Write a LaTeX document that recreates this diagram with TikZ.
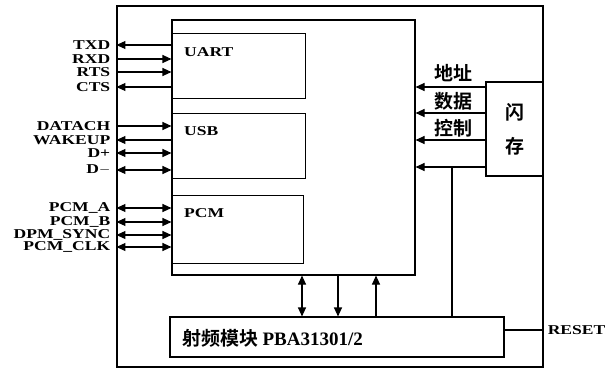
\documentclass[tikz,border=0pt]{standalone}
\usepackage{fontspec}
\setmainfont{Liberation Serif}
\newfontfamily\sigfont[FakeStretch=1.3]{Liberation Serif}
\newfontfamily\cjk{Noto Sans CJK SC}[BoldFont={Noto Sans CJK SC Bold}]
\usetikzlibrary{arrows.meta}

\tikzset{
  blk/.style={draw, line width=1.1pt, inner sep=0pt},
  sig/.style={line width=1.1pt},
  lbl/.style={font=\sigfont\bfseries\fontsize{13.5}{13.5}\selectfont, inner sep=0pt},
  cn/.style={font=\cjk\bfseries\fontsize{19}{19}\selectfont, inner sep=1pt},
  >={Triangle[length=9pt,width=8pt]}
}

\begin{document}
\begin{tikzpicture}[x=1pt,y=-1pt]
    \useasboundingbox (0,0) rectangle (609,369);
    % blocks
    \node[blk, minimum width=426pt, minimum height=361pt] (outer) at (330,186.5) {};
    \node[blk, minimum width=243pt, minimum height=255pt] (main) at (293.5,147.5) {};
    \node[blk, minimum width=133pt, minimum height=65pt, anchor=north west] (uart) at (172,33) {};
    \node[blk, minimum width=133pt, minimum height=65pt, anchor=north west] (usb) at (172,113) {};
    \node[blk, minimum width=131pt, minimum height=68pt, anchor=north west] (pcm) at (172,195) {};
    \node[blk, minimum width=57pt, minimum height=94pt] (flash) at (514.5,129) {};
    \node[blk, minimum width=334pt, minimum height=40pt] (rf) at (337,337) {};

    \node[lbl, anchor=west] (uartl) at (184,52) {UART};
    \node[lbl, anchor=west] (usbl) at (184,131) {USB};
    \node[lbl, anchor=west] (pcml) at (184,213) {PCM};
    \node[cn] (shan) at (514.5,112) {闪};
    \node[cn] (cun) at (514.5,146) {存};
    \node[anchor=west, inner sep=1pt] (rfl) at (181,338)
      {\cjk\bfseries\fontsize{19}{19}\selectfont 射频模块 \rmfamily\bfseries\fontsize{19}{19}\selectfont PBA31301/2};

    % left side signals
    \foreach \y/\lab/\tip in {45/TXD/<-, 59/RXD/->, 72/RTS/->, 87/CTS/<-,
        126/DATACH/->, 140/WAKEUP/<-, 153/D+/<->, 170/D$-$/<->,
        208/PCM\_A/<->, 222/PCM\_B/<->, 235/DPM\_SYNC/<->, 247/PCM\_CLK/<->} {
      \draw[sig, \tip] (outer.west |- 0,\y) -- (main.west |- 0,\y);
      \node[lbl, anchor=east] at ([xshift=-6pt]outer.west |- 0,\y) {\lab};
    }

    % flash to main
    \foreach \y in {87,113,140,167}
      \draw[sig, ->] (flash.west |- 0,\y) -- (main.east |- 0,\y);
    \node[cn] (addr) at (453,73) {地址};
    \node[cn] (data) at (453,101) {数据};
    \node[cn] (ctrl) at (453,128) {控制};
    \draw[sig] (452,167) -- (rf.north -| 452,0);

    % main to rf
    \draw[sig, <->] (main.south -| 302,0) -- (rf.north -| 302,0);
    \draw[sig, ->] (main.south -| 338,0) -- (rf.north -| 338,0);
    \draw[sig, <-] (main.south -| 376,0) -- (rf.north -| 376,0);

    % reset
    \draw[sig] (rf.east |- 0,330) -- (outer.east |- 0,330);
    \node[lbl, anchor=west] (reset) at ([xshift=4pt]outer.east |- 0,330) {RESET};
  \end{tikzpicture}
\end{document}
